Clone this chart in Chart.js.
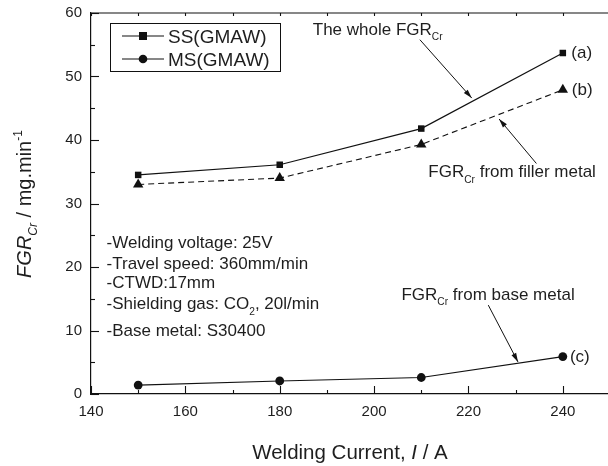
<!DOCTYPE html>
<html><head><meta charset="utf-8">
<script src="https://cdn.jsdelivr.net/npm/chart.js@4/dist/chart.umd.min.js"></script>
<style>html,body{margin:0;padding:0;background:#fff;overflow:hidden;width:608px;height:466px}
#wrap{position:absolute;left:0;top:0;width:616px;height:466px}</style>
</head><body><div id="wrap"><canvas id="c" width="616" height="466"></canvas></div>
<script>
// ---- data ----
const currents = [150, 180, 210, 240];
const wholeFGR = [34.5, 36.1, 41.8, 53.7];   // (a) SS(GMAW) whole FGR_Cr
const fillerFGR = [33.0, 34.0, 39.3, 47.9];  // (b) FGR_Cr from filler metal
const baseFGR = [1.4, 2.05, 2.6, 5.9];       // (c) MS(GMAW) FGR_Cr from base metal
const xTickLabels = [140, 160, 180, 200, 220, 240];
const yTickLabels = [0, 10, 20, 30, 40, 50, 60];
const legendNames = ['SS(GMAW)', 'MS(GMAW)'];
const conditions = [
  [{t:'-Welding voltage: 25V'}],
  [{t:'-Travel speed: 360mm/min'}],
  [{t:'-CTWD:17mm'}],
  [{t:'-Shielding gas: CO'},{t:'2',sub:true},{t:', 20l/min'}],
  [{t:'-Base metal: S30400'}]
];
const conditionY = [24.0, 20.6, 17.6, 14.3, 10.05];

const FONT = '"Liberation Sans", Arial, Helvetica, sans-serif';
const INK = '#111';
const TXT = '#1e1e1e';

function pts(xs, ys){ return xs.map((x,i)=>({x:x, y:ys[i]})); }

function fontStr(size, it){ return (it?'italic ':'') + size + 'px ' + FONT; }
function richWidth(ctx, parts, size){
  let w=0;
  parts.forEach(p=>{ const s=(p.sub||p.sup)?size*0.6:size; ctx.font=fontStr(s,p.it); w+=ctx.measureText(p.t).width; });
  return w;
}
function drawRich(ctx, x, y, parts, size){
  let cx=x;
  parts.forEach(p=>{
    const s=(p.sub||p.sup)?size*0.6:size;
    ctx.font=fontStr(s,p.it);
    let dy=0; if(p.sub) dy=size*0.32; if(p.sup) dy=-size*0.45;
    ctx.fillText(p.t, cx, y+dy);
    cx+=ctx.measureText(p.t).width;
  });
  return cx;
}
function arrow(ctx, x1,y1,x2,y2){
  ctx.beginPath(); ctx.moveTo(x1,y1); ctx.lineTo(x2,y2); ctx.stroke();
  const a=Math.atan2(y2-y1,x2-x1), L=9, W=2.6;
  ctx.beginPath();
  ctx.moveTo(x2,y2);
  ctx.lineTo(x2-L*Math.cos(a)+W*Math.sin(a), y2-L*Math.sin(a)-W*Math.cos(a));
  ctx.lineTo(x2-L*Math.cos(a)-W*Math.sin(a), y2-L*Math.sin(a)+W*Math.cos(a));
  ctx.closePath(); ctx.fill();
}

const decor = {
  id:'decor',
  afterDraw(chart){
    const ctx=chart.ctx, ca=chart.chartArea, xs=chart.scales.x, ys=chart.scales.y;
    const X=v=>xs.getPixelForValue(v), Y=v=>ys.getPixelForValue(v);
    ctx.save();
    ctx.strokeStyle=INK; ctx.fillStyle=INK; ctx.lineWidth=1.2;
    // top frame line
    ctx.beginPath(); ctx.moveTo(ca.left, ca.top); ctx.lineTo(ca.right+2, ca.top); ctx.stroke();
    // inward ticks
    ctx.lineWidth=1.1;
    for(let v=140; v<=250; v+=10){
      const px=Math.round(X(v))+0.5, major=(v%20===0);
      ctx.beginPath(); ctx.moveTo(px, ca.bottom); ctx.lineTo(px, ca.bottom-(major?8:4)); ctx.stroke();
      ctx.beginPath(); ctx.moveTo(px, ca.top); ctx.lineTo(px, ca.top+3); ctx.stroke();
    }
    for(let v=0; v<=60; v+=5){
      const py=Math.round(Y(v))+0.5, major=(v%10===0);
      ctx.beginPath(); ctx.moveTo(ca.left, py); ctx.lineTo(ca.left+(major?8:4), py); ctx.stroke();
    }
    ctx.fillStyle=TXT; ctx.textBaseline='alphabetic';
    // x title
    const xt=[{t:'Welding Current, '},{t:'I',it:true},{t:' / A'}];
    let w=richWidth(ctx,xt,20.5);
    drawRich(ctx, 350-w/2, 459, xt, 20.5);
    // y title
    const yt=[{t:'FGR',it:true},{t:'Cr',it:true,sub:true},{t:' / mg.min'},{t:'-1',sup:true}];
    ctx.save(); ctx.translate(31, 204); ctx.rotate(-Math.PI/2);
    w=richWidth(ctx,yt,20);
    drawRich(ctx, -w/2, 0, yt, 20);
    ctx.restore();
    // legend
    ctx.strokeStyle=INK; ctx.lineWidth=1;
    ctx.strokeRect(110.5, 23.5, 170, 48);
    const ly=[36, 59];
    legendNames.forEach((n,i)=>{
      ctx.strokeStyle=INK; ctx.lineWidth=1.1;
      ctx.beginPath(); ctx.moveTo(122, ly[i]); ctx.lineTo(164, ly[i]); ctx.stroke();
      ctx.fillStyle=INK;
      if(i===0){ ctx.fillRect(139, ly[i]-4, 8, 8); }
      else { ctx.beginPath(); ctx.arc(143, ly[i], 4.3, 0, Math.PI*2); ctx.fill(); }
      ctx.fillStyle=TXT; ctx.font=fontStr(19,false);
      ctx.fillText(n, 168, ly[i]+7);
    });
    // conditions text
    ctx.fillStyle=TXT;
    conditions.forEach((parts,i)=>{ drawRich(ctx, X(143.3), Y(conditionY[i])+6, parts, 17); });
    // annotations
    drawRich(ctx, X(187.0), Y(56.6), [{t:'The whole FGR'},{t:'Cr',sub:true}], 17);
    drawRich(ctx, X(211.5), Y(34.1), [{t:'FGR'},{t:'Cr',sub:true},{t:' from filler metal'}], 17);
    drawRich(ctx, X(205.8), Y(14.8), [{t:'FGR'},{t:'Cr',sub:true},{t:' from base metal'}], 17);
    drawRich(ctx, X(241.8), Y(53.8)+6, [{t:'(a)'}], 17);
    drawRich(ctx, X(241.9), Y(48.0)+6, [{t:'(b)'}], 17);
    drawRich(ctx, X(241.5), Y(5.95)+6, [{t:'(c)'}], 17);
    ctx.strokeStyle=INK; ctx.fillStyle=INK; ctx.lineWidth=1;
    arrow(ctx, X(209.7), Y(55.8), X(220.7), Y(46.6));
    arrow(ctx, X(234.4), Y(36.3), X(226.5), Y(43.3));
    arrow(ctx, X(224.2), Y(14.0), X(230.5), Y(5.05));
    ctx.restore();
  }
};

new Chart(document.getElementById('c'), {
  type:'line',
  data:{ datasets:[
    { label:'whole', data:pts(currents, wholeFGR), borderColor:INK, backgroundColor:INK, borderWidth:1.2,
      pointStyle:'rect', pointRadius:4.6, pointBorderWidth:0, tension:0 },
    { label:'filler', data:pts(currents, fillerFGR), borderColor:INK, backgroundColor:INK, borderWidth:1.1,
      borderDash:[6,4], pointStyle:'triangle', pointRadius:6, pointBorderWidth:0, tension:0 },
    { label:'base', data:pts(currents, baseFGR), borderColor:INK, backgroundColor:INK, borderWidth:1.2,
      pointStyle:'circle', pointRadius:4.4, pointBorderWidth:0, tension:0 }
  ]},
  options:{
    responsive:false, animation:false, devicePixelRatio:1,
    layout:{ padding:{ top:13, right:2, left:0, bottom:0 } },
    plugins:{ legend:{display:false}, tooltip:{enabled:false} },
    scales:{
      x:{ type:'linear', min:140, max:250,
        grid:{ display:false, drawTicks:false },
        border:{ display:true, color:INK, width:1.2 },
        ticks:{ stepSize:10, autoSkip:false, maxRotation:0, padding:9, color:TXT, font:{ size:15, family:FONT },
          callback:v=> xTickLabels.includes(v) ? String(v) : '' },
        afterFit:s=>{ s.height=72; s.paddingLeft=0; s.paddingRight=0; } },
      y:{ type:'linear', min:0, max:60,
        grid:{ display:false, drawTicks:false },
        border:{ display:true, color:INK, width:1.2 },
        ticks:{ stepSize:10, padding:9, color:TXT, font:{ size:15, family:FONT },
          callback:v=> yTickLabels.includes(v) ? String(v) : '' },
        afterFit:s=>{ s.width=91; s.paddingTop=0; s.paddingBottom=0; } }
    }
  },
  plugins:[decor]
});
</script></body></html>
